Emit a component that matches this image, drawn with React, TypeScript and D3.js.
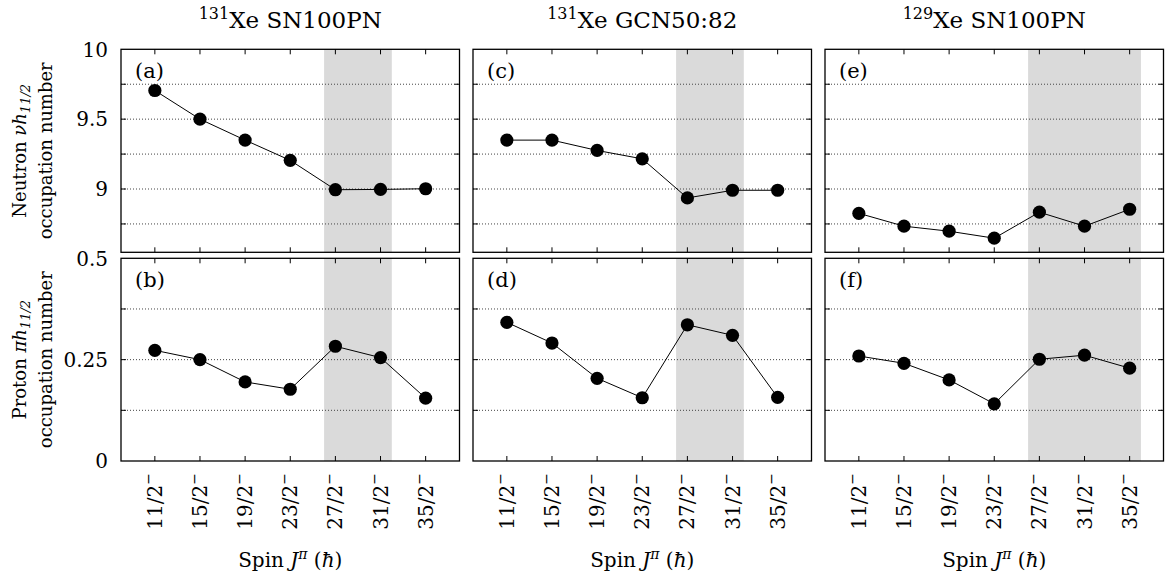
import React from "react";
import * as d3 from "d3";

const categories = ["11/2", "15/2", "19/2", "23/2", "27/2", "31/2", "35/2"];

const neutronXe131SN = [9.705, 9.5, 9.35, 9.205, 8.995, 8.997, 9.002];
const protonXe131SN = [0.273, 0.25, 0.195, 0.177, 0.283, 0.255, 0.155];
const neutronXe131GCN = [9.35, 9.35, 9.276, 9.216, 8.936, 8.991, 8.991];
const protonXe131GCN = [0.342, 0.291, 0.204, 0.156, 0.336, 0.31, 0.157];
const neutronXe129SN = [8.826, 8.734, 8.698, 8.648, 8.834, 8.734, 8.855];
const protonXe129SN = [0.259, 0.241, 0.2, 0.141, 0.251, 0.261, 0.229];

const titlesMass = ["131", "131", "129"];
const titlesText = ["Xe SN100PN", "Xe GCN50:82", "Xe SN100PN"];
const shadeStart = [3.75, 3.75, 3.75];
const shadeEnd = [5.25, 5.25, 6.25];
const topLabels = ["(a)", "(c)", "(e)"];
const bottomLabels = ["(b)", "(d)", "(f)"];

const neutronTicks = [9, 9.5, 10];
const neutronGrid = [8.75, 9, 9.25, 9.5, 9.75];
const protonTicks = [0, 0.25, 0.5];
const protonGrid = [0.125, 0.25, 0.375];

const FONT = "'DejaVu Serif', 'Liberation Serif', serif";

const panelLefts = [121, 473, 825];
const panelWidth = 338.5;
const topY0 = 49.3;
const topY1 = 252.3;
const botY0 = 258.3;
const botY1 = 461;

type PanelProps = {
  left: number;
  y0: number;
  y1: number;
  domain: [number, number];
  values: number[];
  grid: number[];
  shade: [number, number];
  label: string;
  showYTicks: boolean;
  yTicks: number[];
  showXLabels: boolean;
};

function Panel(p: PanelProps) {
  const x = d3.scaleLinear().domain([-0.75, 6.75]).range([p.left, p.left + panelWidth]);
  const y = d3.scaleLinear().domain(p.domain).range([p.y1, p.y0]);
  const line = d3
    .line<number>()
    .x((_, i) => x(i))
    .y((d) => y(d));
  const tickLen = 5;
  return (
    <g>
      <rect
        x={x(p.shade[0])}
        y={p.y0}
        width={x(p.shade[1]) - x(p.shade[0])}
        height={p.y1 - p.y0}
        fill="#dadada"
      />
      {p.grid.map((g) => (
        <line
          key={"g" + g}
          x1={p.left}
          x2={p.left + panelWidth}
          y1={y(g)}
          y2={y(g)}
          stroke="#444"
          strokeWidth={1}
          strokeDasharray="1,2"
        />
      ))}
      {p.grid.map((g) => (
        <g key={"yt" + g}>
          <line x1={p.left} x2={p.left + tickLen} y1={y(g)} y2={y(g)} stroke="#000" />
          <line
            x1={p.left + panelWidth}
            x2={p.left + panelWidth - tickLen}
            y1={y(g)}
            y2={y(g)}
            stroke="#000"
          />
        </g>
      ))}
      {categories.map((c, i) => (
        <g key={"xt" + c}>
          <line x1={x(i)} x2={x(i)} y1={p.y0} y2={p.y0 + tickLen} stroke="#000" />
          <line x1={x(i)} x2={x(i)} y1={p.y1} y2={p.y1 - tickLen} stroke="#000" />
        </g>
      ))}
      <path d={line(p.values) || ""} fill="none" stroke="#000" strokeWidth={1} />
      {p.values.map((v, i) => (
        <circle key={"c" + i} cx={x(i)} cy={y(v)} r={6.6} fill="#000" />
      ))}
      <rect
        x={p.left}
        y={p.y0}
        width={panelWidth}
        height={p.y1 - p.y0}
        fill="none"
        stroke="#000"
        strokeWidth={1.3}
      />
      <text x={p.left + 14} y={p.y0 + 29} fontFamily={FONT} fontSize={21} fill="#000">
        {p.label}
      </text>
      {p.showYTicks &&
        p.yTicks.map((t) => (
          <text
            key={"yl" + t}
            x={p.left - 13}
            y={y(t)}
            dy="0.36em"
            textAnchor="end"
            fontFamily={FONT}
            fontSize={20}
            fill="#000"
          >
            {String(t)}
          </text>
        ))}
      {p.showXLabels &&
        categories.map((c, i) => (
          <text
            key={"xl" + c}
            transform={`translate(${x(i) + 7},${p.y1 + 12}) rotate(-90)`}
            textAnchor="end"
            fontFamily={FONT}
            fontSize={20}
            fill="#000"
          >
            {c}
            <tspan fontSize={14} dy="-0.6em">−</tspan>
          </text>
        ))}
      {p.showXLabels && (
        <text
          x={p.left + panelWidth / 2}
          y={567}
          textAnchor="middle"
          fontFamily={FONT}
          fontSize={20}
          fill="#000"
        >
          Spin <tspan fontStyle="italic">J</tspan>
          <tspan fontSize={14} dy="-0.6em" fontStyle="italic">π</tspan>
          <tspan dy="0.42em">{"  ("}</tspan>
          <tspan fontStyle="italic">ħ</tspan>)
        </text>
      )}
    </g>
  );
}

export default function App() {
  const neutronSets = [neutronXe131SN, neutronXe131GCN, neutronXe129SN];
  const protonSets = [protonXe131SN, protonXe131GCN, protonXe129SN];
  return (
    <svg
      width={1167}
      height={583}
      style={{ position: "absolute", left: 0, top: 0, background: "#fff" }}
    >
      <rect x={0} y={0} width={1167} height={583} fill="#fff" />
      {panelLefts.map((left, k) => (
        <g key={"p" + k}>
          <text
            x={left + panelWidth / 2}
            y={28}
            textAnchor="middle"
            fontFamily={FONT}
            fontSize={23}
            fill="#000"
          >
            <tspan fontSize={16} dy="-0.55em">{titlesMass[k]}</tspan>
            <tspan dy="0.38em">{titlesText[k]}</tspan>
          </text>
          <Panel
            left={left}
            y0={topY0}
            y1={topY1}
            domain={[8.547, 10]}
            values={neutronSets[k]}
            grid={neutronGrid}
            shade={[shadeStart[k], shadeEnd[k]]}
            label={topLabels[k]}
            showYTicks={k === 0}
            yTicks={neutronTicks}
            showXLabels={false}
          />
          <Panel
            left={left}
            y0={botY0}
            y1={botY1}
            domain={[0, 0.5]}
            values={protonSets[k]}
            grid={protonGrid}
            shade={[shadeStart[k], shadeEnd[k]]}
            label={bottomLabels[k]}
            showYTicks={k === 0}
            yTicks={protonTicks}
            showXLabels={true}
          />
        </g>
      ))}
      <text
        transform={`translate(26,${(topY0 + topY1) / 2}) rotate(-90)`}
        textAnchor="middle"
        fontFamily={FONT}
        fontSize={18}
        fill="#000"
      >
        Neutron <tspan fontStyle="italic">νh</tspan>
        <tspan fontSize={13} dy="0.3em" fontStyle="italic">11/2</tspan>
      </text>
      <text
        transform={`translate(52,${(topY0 + topY1) / 2}) rotate(-90)`}
        textAnchor="middle"
        fontFamily={FONT}
        fontSize={18}
        fill="#000"
      >
        occupation number
      </text>
      <text
        transform={`translate(26,${(botY0 + botY1) / 2}) rotate(-90)`}
        textAnchor="middle"
        fontFamily={FONT}
        fontSize={18}
        fill="#000"
      >
        Proton <tspan fontStyle="italic">πh</tspan>
        <tspan fontSize={13} dy="0.3em" fontStyle="italic">11/2</tspan>
      </text>
      <text
        transform={`translate(52,${(botY0 + botY1) / 2}) rotate(-90)`}
        textAnchor="middle"
        fontFamily={FONT}
        fontSize={18}
        fill="#000"
      >
        occupation number
      </text>
    </svg>
  );
}
